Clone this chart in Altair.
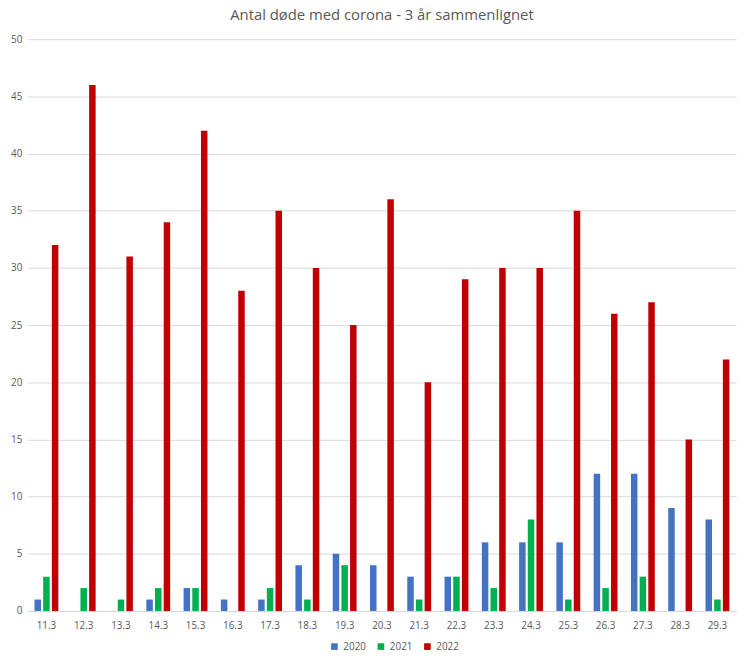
import altair as alt
import pandas as pd

dates = ["11.3", "12.3", "13.3", "14.3", "15.3", "16.3", "17.3", "18.3", "19.3", "20.3",
         "21.3", "22.3", "23.3", "24.3", "25.3", "26.3", "27.3", "28.3", "29.3"]
years = ["2020", "2021", "2022"]
v2020 = [1, 0, 0, 1, 2, 1, 1, 4, 5, 4, 3, 3, 6, 6, 6, 12, 12, 9, 8]
v2021 = [3, 2, 1, 2, 2, 0, 2, 1, 4, 0, 1, 3, 2, 8, 1, 2, 3, 0, 1]
v2022 = [32, 46, 31, 34, 42, 28, 35, 30, 25, 36, 20, 29, 30, 30, 35, 26, 27, 15, 22]
colors = ["#4472C4", "#00B050", "#C00000"]

rows = []
for yr, vals in zip(years, [v2020, v2021, v2022]):
    for d, v in zip(dates, vals):
        rows.append({"dato": d, "år": yr, "antal": v})
df = pd.DataFrame(rows)

font = "Open Sans"
gray = "#595959"

chart = alt.Chart(df).mark_bar().encode(
    x=alt.X("dato:N", sort=dates, title=None,
            scale=alt.Scale(paddingInner=0.36, paddingOuter=0.18),
            axis=alt.Axis(labelAngle=0, ticks=False, grid=False, domainColor="#d9d9d9",
                          labelColor=gray, labelFontSize=10, labelFont=font, labelPadding=10)),
    xOffset=alt.XOffset("år:N", sort=years, scale=alt.Scale(paddingInner=0.25, paddingOuter=0)),
    y=alt.Y("antal:Q", title=None,
            scale=alt.Scale(domain=[0, 50], nice=False),
            axis=alt.Axis(values=list(range(0, 51, 5)), domain=False, ticks=False,
                          gridColor="#d9d9d9", labelColor=gray, labelFontSize=10,
                          labelFont=font, labelPadding=6)),
    color=alt.Color("år:N", sort=years, scale=alt.Scale(domain=years, range=colors),
                    legend=alt.Legend(title=None, orient="none", direction="horizontal",
                                      legendX=305, legendY=609,
                                      symbolType="square", symbolSize=45, symbolStrokeWidth=0,
                                      labelColor=gray, labelFontSize=10, labelFont=font,
                                      columnPadding=10)),
).properties(
    width=716,
    height=578,
    title=alt.TitleParams("Antal døde med corona - 3 år sammenlignet", font=font,
                          fontSize=15, fontWeight="normal", color=gray, offset=11),
    autosize=alt.AutoSizeParams(type="none"),
    padding={"left": 20, "top": 28, "right": 6, "bottom": 42},
).configure_view(stroke=None)

chart.save("out.html", embed_options={"renderer": "svg", "actions": False})
